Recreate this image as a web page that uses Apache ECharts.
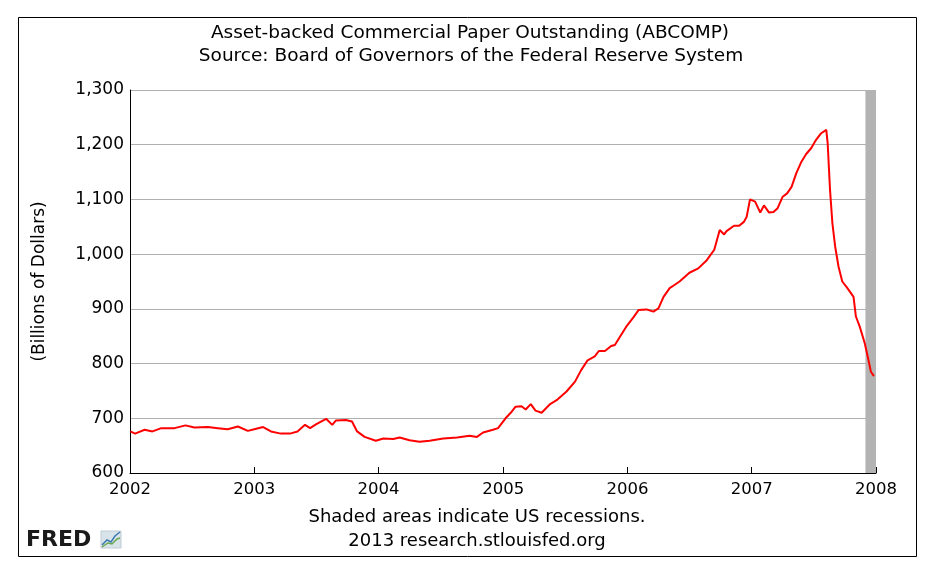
<!DOCTYPE html>
<html>
<head>
<meta charset="utf-8">
<script src="https://cdn.jsdelivr.net/npm/echarts@6/dist/echarts.min.js"></script>
<style>html,body{margin:0;padding:0;background:#fff;}#c{width:935px;height:575px;}</style>
</head>
<body>
<div id="c"></div>
<script>
const dates = ['2002-01-02','2002-01-16','2002-02-13','2002-03-08','2002-04-03','2002-05-12','2002-06-13','2002-07-09','2002-08-18','2002-09-16','2002-10-15','2002-11-14','2002-12-13',
'2003-01-01','2003-01-27','2003-02-19','2003-03-20','2003-04-16','2003-05-08','2003-05-30','2003-06-14','2003-07-01','2003-07-31','2003-08-18','2003-08-29','2003-09-27','2003-10-15','2003-10-30','2003-11-21','2003-12-24',
'2004-01-15','2004-02-13','2004-03-03','2004-04-01','2004-04-30','2004-05-30','2004-07-09','2004-08-19','2004-09-24','2004-10-16','2004-11-03','2004-12-02','2004-12-17',
'2005-01-08','2005-01-26','2005-02-06','2005-02-24','2005-03-08','2005-03-23','2005-04-06','2005-04-24','2005-05-19','2005-06-07','2005-07-06','2005-07-31','2005-08-18','2005-09-06','2005-09-27','2005-10-09','2005-10-27','2005-11-14','2005-11-25','2005-12-10','2005-12-28',
'2006-01-19','2006-02-03','2006-02-26','2006-03-18','2006-04-02','2006-04-17','2006-05-05','2006-05-20','2006-06-03','2006-07-02','2006-07-28','2006-08-22','2006-09-13','2006-09-29','2006-10-12','2006-10-19','2006-11-10','2006-11-25','2006-12-09','2006-12-17','2006-12-27',
'2007-01-11','2007-01-26','2007-02-06','2007-02-21','2007-03-06','2007-03-18','2007-04-02','2007-04-15','2007-04-28','2007-05-12','2007-05-27','2007-06-10','2007-06-25','2007-07-09','2007-07-24','2007-08-08','2007-08-12','2007-08-19','2007-08-26','2007-09-03','2007-09-13','2007-09-24','2007-10-09','2007-10-27','2007-11-03','2007-11-14','2007-11-29','2007-12-10','2007-12-17','2007-12-26'];
const values = [676,672,679,676,682,682,687,683,684,682,680,685,677,
680,684,676,672,672,676,688,682,689,699,688,696,697,694,676,666,659,
663,662,665,660,657,659,663,665,668,666,674,679,682,
700,712,721,722,716,726,714,710,726,733,749,767,788,806,813,823,823,832,834,849,867,
885,898,899,895,901,922,938,944,950,966,974,989,1008,1044,1036,1042,1052,1052,1059,1068,1100,
1096,1076,1089,1076,1077,1084,1105,1111,1123,1148,1169,1183,1194,1209,1221,1227,1203,1117,1056,1014,977,950,938,922,886,868,837,806,785,777];
const recessions = [['2007-12-01','2008-01-01']];
const yTicks = [600,700,800,900,1000,1100,1200,1300];

const FONT = 'DejaVu Sans';
const chart = echarts.init(document.getElementById('c'), null, {renderer:'canvas'});
function txt(x, y, s, size, extra){
  return Object.assign({type:'text', x:x, y:y, style:{text:s, fontFamily:FONT, fontSize:size, fill:'#000', align:'center', verticalAlign:'middle'}}, extra||{});
}
chart.setOption({
  backgroundColor:'#fff',
  animation:false,
  grid:{left:130, right:59, top:90, bottom:102, containLabel:false},
  xAxis:{
    type:'time', min:'2002-01-01', max:'2008-01-01',
    minInterval:365*24*3600*1000, maxInterval:366*24*3600*1000,
    axisLine:{show:true, lineStyle:{color:'#000', width:1}},
    axisTick:{show:true, inside:true, length:6, lineStyle:{color:'#000'}},
    axisLabel:{formatter:'{yyyy}', color:'#000', fontFamily:FONT, fontSize:16.5, margin:8, showMinLabel:true, showMaxLabel:true},
    splitLine:{show:false}
  },
  yAxis:{
    type:'value', min:yTicks[0], max:yTicks[yTicks.length-1], interval:100,
    name:'(Billions of Dollars)', nameLocation:'middle', nameGap:82, nameRotate:90,
    nameTextStyle:{color:'#000', fontFamily:FONT, fontSize:17},
    axisLine:{show:true, lineStyle:{color:'#000', width:1}},
    axisTick:{show:false},
    axisLabel:{color:'#000', fontFamily:FONT, fontSize:17, margin:6,
      formatter:v=>v.toLocaleString('en-US')},
    splitLine:{show:true, lineStyle:{color:'#b0b0b0', width:1}}
  },
  series:[{
    type:'line', showSymbol:false, symbol:'none',
    data: dates.map((d,i)=>[d, values[i]]),
    lineStyle:{color:'#ff0000', width:2},
    itemStyle:{color:'#ff0000'},
    markArea:{silent:true, itemStyle:{color:'#b3b3b3', opacity:1},
      data: recessions.map(r=>[{xAxis:r[0]},{xAxis:r[1]}])}
  }],
  graphic:[
    {type:'rect', shape:{x:18.5, y:17.5, width:898, height:539}, style:{fill:'none', stroke:'#000', lineWidth:1}, z:-1},
    txt(470, 33, 'Asset-backed Commercial Paper Outstanding (ABCOMP)', 18.5),
    txt(471, 56, 'Source: Board of Governors of the Federal Reserve System', 18.5),
    txt(477, 517, 'Shaded areas indicate US recessions.', 18),
    txt(477, 541, '2013 research.stlouisfed.org', 18),
    {type:'text', x:26, y:540, style:{text:'FRED', fontFamily:FONT, fontWeight:'bold', fontSize:22, fill:'#1a1a1a', align:'left', verticalAlign:'middle'}},
    {type:'rect', shape:{x:101, y:531, width:20, height:17}, style:{fill:'#d8e4ea', stroke:'#c0ccd4', lineWidth:1}},
    {type:'polyline', shape:{points:[[102,545],[107,540],[111,542],[115,536],[120,532]]}, style:{stroke:'#3b7ab0', lineWidth:1.5, fill:'none'}},
    {type:'polyline', shape:{points:[[102,547],[108,543],[112,544],[117,539],[120,538]]}, style:{stroke:'#6aa84f', lineWidth:1.5, fill:'none'}}
  ]
});
</script>
</body>
</html>
